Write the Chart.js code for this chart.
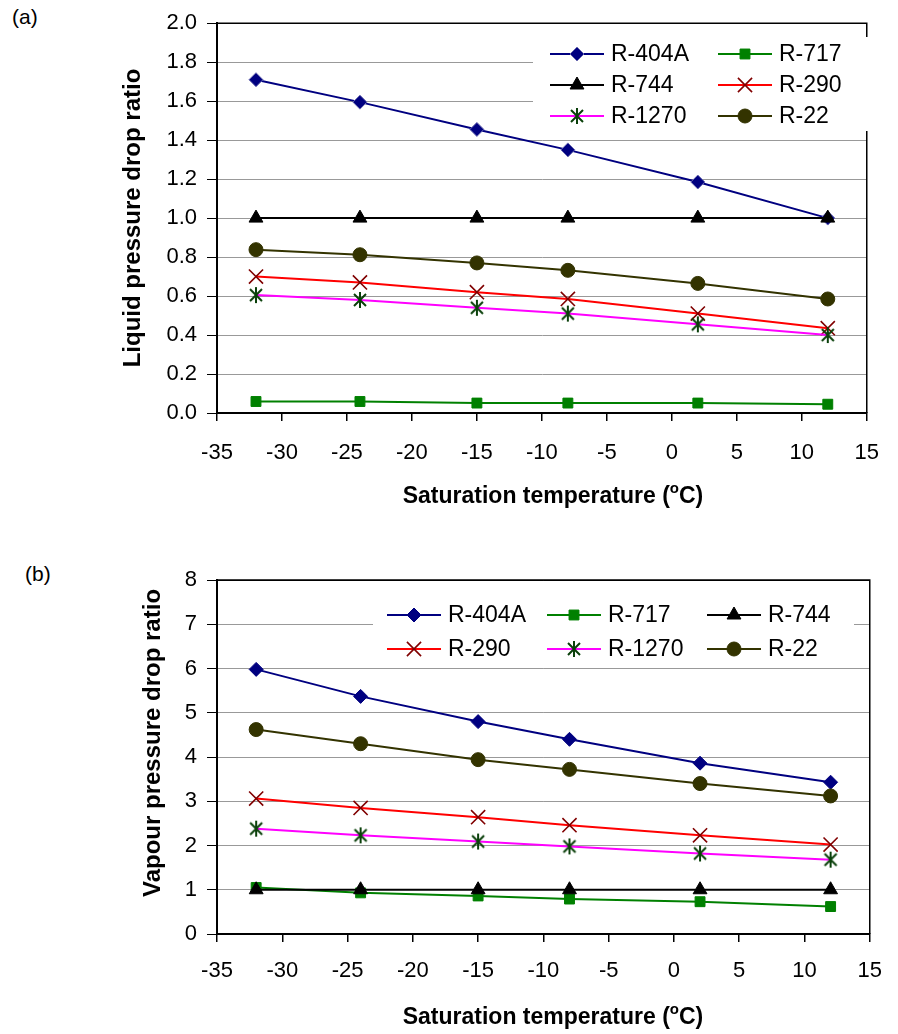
<!DOCTYPE html>
<html>
<head>
<meta charset="utf-8">
<title>Pressure drop ratio vs saturation temperature</title>
<script src="https://cdn.jsdelivr.net/npm/chart.js@4.4.0/dist/chart.umd.min.js"></script>
<style>
  html, body { margin: 0; padding: 0; background: #fff; }
  body { width: 898px; height: 1034px; position: relative; overflow: hidden;
         font-family: "Liberation Sans", Arial, sans-serif; color: #000; }
  .panel { position: absolute; left: 0; width: 898px; }
  #wrapA { top: 0; height: 520px; }
  #wrapB { top: 520px; height: 514px; }
  .tag { position: absolute; font-size: 21px; line-height: 1; }
</style>
</head>
<body>
<div class="tag" style="left:12px; top:6px;">(a)</div>
<div class="tag" style="left:25px; top:563px;">(b)</div>
<div class="panel" id="wrapA"><canvas id="chartA" width="898" height="520"></canvas></div>
<div class="panel" id="wrapB"><canvas id="chartB" width="898" height="514"></canvas></div>

<script>
// ---- data ----
const temperatures = [-32, -24, -15, -8, 2, 12];
const refrigerants = ['R-404A', 'R-717', 'R-744', 'R-290', 'R-1270', 'R-22'];

const liquidR404A = [1.71, 1.595, 1.455, 1.35, 1.185, 1.0];
const liquidR717  = [0.059, 0.059, 0.051, 0.051, 0.051, 0.045];
const liquidR744  = [1.0, 1.0, 1.0, 1.0, 1.0, 1.0];
const liquidR290  = [0.70, 0.67, 0.62, 0.585, 0.51, 0.435];
const liquidR1270 = [0.605, 0.58, 0.54, 0.51, 0.455, 0.40];
const liquidR22   = [0.838, 0.812, 0.77, 0.732, 0.665, 0.585];

const vapourR404A = [5.98, 5.37, 4.80, 4.40, 3.86, 3.43];
const vapourR717  = [1.05, 0.93, 0.86, 0.79, 0.73, 0.62];
const vapourR744  = [1.0, 1.0, 1.0, 1.0, 1.0, 1.0];
const vapourR290  = [3.06, 2.85, 2.64, 2.46, 2.23, 2.02];
const vapourR1270 = [2.38, 2.23, 2.09, 1.98, 1.82, 1.68];
const vapourR22   = [4.62, 4.30, 3.94, 3.72, 3.40, 3.12];

const xTickValues      = [-35, -30, -25, -20, -15, -10, -5, 0, 5, 10, 15];
const liquidTickValues = [0, 0.2, 0.4, 0.6, 0.8, 1.0, 1.2, 1.4, 1.6, 1.8, 2.0];
const vapourTickValues = [0, 1, 2, 3, 4, 5, 6, 7, 8];

const liquidTitle = 'Liquid pressure drop ratio';
const vapourTitle = 'Vapour pressure drop ratio';
const xTitleMain = 'Saturation temperature (';
const xTitleSup = 'o';
const xTitleEnd = 'C)';

// ---- styling ----
const FONT = '"Liberation Sans", Arial, sans-serif';

// six-spoke asterisk marker
function asteriskMarker(color) {
  const c = document.createElement('canvas');
  c.width = 18; c.height = 18;
  const g = c.getContext('2d');
  g.strokeStyle = color; g.lineWidth = 2; g.lineCap = 'butt';
  g.beginPath();
  g.moveTo(9, 1); g.lineTo(9, 17);
  g.moveTo(3, 3); g.lineTo(15, 15);
  g.moveTo(15, 3); g.lineTo(3, 15);
  g.stroke();
  return c;
}

const styles = {
  'R-404A': { line: '#000080', fill: '#000080', border: '#000080', pointStyle: 'rectRot', radius: 7, bw: 1 },
  'R-717':  { line: '#008000', fill: '#008000', border: '#008000', pointStyle: 'rect', radius: 7, bw: 1 },
  'R-744':  { line: '#000000', fill: '#000000', border: '#000000', pointStyle: 'triangle', radius: 8, bw: 1 },
  'R-290':  { line: '#ff0000', fill: '#800000', border: '#800000', pointStyle: 'crossRot', radius: 10, bw: 1.6 },
  'R-1270': { line: '#ff00ff', fill: '#003c00', border: '#003c00', pointStyle: asteriskMarker('#0a400a'), radius: 8, bw: 1 },
  'R-22':   { line: '#333300', fill: '#333300', border: '#333300', pointStyle: 'circle', radius: 7, bw: 1 }
};

function buildDatasets(seriesList, diamondBorder) {
  return refrigerants.map((name, i) => {
    const s = styles[name];
    return {
      label: name,
      data: temperatures.map((t, k) => ({ x: t, y: seriesList[i][k] })),
      borderColor: s.line,
      backgroundColor: s.fill,
      borderWidth: 2,
      pointStyle: s.pointStyle,
      pointRadius: s.radius,
      pointHoverRadius: s.radius,
      pointBackgroundColor: s.fill,
      pointBorderColor: (name === 'R-404A' && diamondBorder) ? diamondBorder : s.border,
      pointBorderWidth: s.bw,
      tension: 0,
      fill: false,
      order: refrigerants.length - i
    };
  });
}

// Legend with a line segment and marker per entry, drawn inside the plot
const insideLegend = {
  id: 'insideLegend',
  afterDatasetsDraw(chart, args, opts) {
    const ctx = chart.ctx;
    ctx.save();
    ctx.fillStyle = '#ffffff';
    ctx.fillRect(opts.box.x, opts.box.y, opts.box.w, opts.box.h);
    const cols = opts.cols;
    chart.data.datasets.forEach((ds, i) => {
      const r = Math.floor(i / cols.length);
      const c = i % cols.length;
      const x0 = cols[c];
      const y = opts.rows[r];
      const s = styles[ds.label];
      ctx.strokeStyle = s.line;
      ctx.lineWidth = 2;
      ctx.beginPath();
      ctx.moveTo(x0, y); ctx.lineTo(x0 + 54, y);
      ctx.stroke();
      ctx.fillStyle = s.fill;
      ctx.strokeStyle = ds.pointBorderColor;
      ctx.lineWidth = s.bw;
      if (Chart.helpers && Chart.helpers.drawPoint) {
        Chart.helpers.drawPoint(ctx, { pointStyle: s.pointStyle, radius: s.radius, rotation: 0, borderWidth: s.bw }, x0 + 27, y);
      }
      ctx.fillStyle = '#000';
      ctx.font = '23px ' + FONT;
      ctx.textAlign = 'left';
      ctx.textBaseline = 'middle';
      ctx.fillText(ds.label, x0 + 61, y + 1);
    });
    ctx.restore();
  }
};

// Right/top frame of the plot area
const plotFrame = {
  id: 'plotFrame',
  beforeDatasetsDraw(chart) {
    const { ctx, chartArea: a } = chart;
    ctx.save();
    ctx.strokeStyle = '#000';
    ctx.lineWidth = 1.5;
    ctx.beginPath();
    ctx.moveTo(a.left, a.top); ctx.lineTo(a.right, a.top); ctx.lineTo(a.right, a.bottom);
    ctx.stroke();
    ctx.restore();
  }
};

// Axis titles (x title carries a superscript "o")
const axisTitles = {
  id: 'axisTitles',
  afterDraw(chart, args, opts) {
    const ctx = chart.ctx;
    ctx.save();
    ctx.fillStyle = '#000';
    ctx.textBaseline = 'middle';
    ctx.save();
    ctx.translate(opts.yCenter[0], opts.yCenter[1]);
    ctx.rotate(-Math.PI / 2);
    ctx.font = 'bold 24px ' + FONT;
    ctx.textAlign = 'center';
    ctx.fillText(opts.yText, 0, 0);
    ctx.restore();
    const big = 'bold 23px ' + FONT, small = 'bold 15px ' + FONT;
    ctx.font = big;
    const w1 = ctx.measureText(xTitleMain).width;
    const w3 = ctx.measureText(xTitleEnd).width;
    ctx.font = small;
    const w2 = ctx.measureText(xTitleSup).width;
    let x = opts.xCenter[0] - (w1 + w2 + w3) / 2;
    const y = opts.xCenter[1];
    ctx.textAlign = 'left';
    ctx.font = big; ctx.fillText(xTitleMain, x, y); x += w1;
    ctx.font = small; ctx.fillText(xTitleSup, x, y - 8); x += w2;
    ctx.font = big; ctx.fillText(xTitleEnd, x, y);
    ctx.restore();
  }
};

function makeChart(id, seriesList, yTicks, decimals, cfg) {
  const yMax = yTicks[yTicks.length - 1];
  return new Chart(document.getElementById(id), {
    type: 'line',
    data: { datasets: buildDatasets(seriesList, cfg.diamondBorder) },
    plugins: [plotFrame, insideLegend, axisTitles],
    options: {
      responsive: false,
      animation: false,
      events: [],
      layout: { padding: { top: cfg.top, right: 17, left: 0, bottom: 0 } },
      plugins: {
        legend: { display: false },
        tooltip: { enabled: false },
        title: { display: false },
        insideLegend: cfg.legend,
        axisTitles: cfg.titles
      },
      scales: {
        x: {
          type: 'linear', min: xTickValues[0], max: xTickValues[xTickValues.length - 1],
          afterBuildTicks: s => { s.ticks = xTickValues.map(v => ({ value: v })); },
          afterFit: s => { s.height = cfg.xHeight; },
          ticks: { color: '#000', font: { family: FONT, size: 22 }, padding: cfg.xPad,
                   maxRotation: 0, autoSkip: false, callback: v => String(v) },
          grid: { display: true, drawOnChartArea: false, drawTicks: true, tickLength: 8,
                  color: '#000', tickColor: '#000', lineWidth: 1.5 },
          border: { display: true, color: '#000', width: 2 }
        },
        y: {
          type: 'linear', min: yTicks[0], max: yMax,
          afterBuildTicks: s => { s.ticks = yTicks.map(v => ({ value: v })); },
          afterFit: s => { s.width = 217; },
          ticks: { color: '#000', font: { family: FONT, size: 22 }, padding: 10,
                   callback: v => Number(v).toFixed(decimals) },
          grid: { color: c => (c.tick && Math.abs(c.tick.value - yMax) < 1e-9) ? '#000' : '#999999',
                  tickColor: '#000', tickLength: 10, lineWidth: 1 },
          border: { display: true, color: '#000', width: 2 }
        }
      }
    }
  });
}

makeChart('chartA',
  [liquidR404A, liquidR717, liquidR744, liquidR290, liquidR1270, liquidR22],
  liquidTickValues, 1, {
    top: 21, xHeight: 107, xPad: 19, diamondBorder: '#6a6ab0',
    legend: { box: { x: 533, y: 37, w: 338, h: 94 }, rows: [54, 85, 116], cols: [550, 718] },
    titles: { yText: liquidTitle, yCenter: [133, 218], xCenter: [553, 497] }
  });

makeChart('chartB',
  [vapourR404A, vapourR717, vapourR744, vapourR290, vapourR1270, vapourR22],
  vapourTickValues, 0, {
    top: 60, xHeight: 100, xPad: 16, diamondBorder: null,
    legend: { box: { x: 373, y: 77, w: 481, h: 68 }, rows: [95, 129], cols: [387, 547, 707] },
    titles: { yText: vapourTitle, yCenter: [153, 223], xCenter: [553, 498] }
  });
</script>
</body>
</html>
